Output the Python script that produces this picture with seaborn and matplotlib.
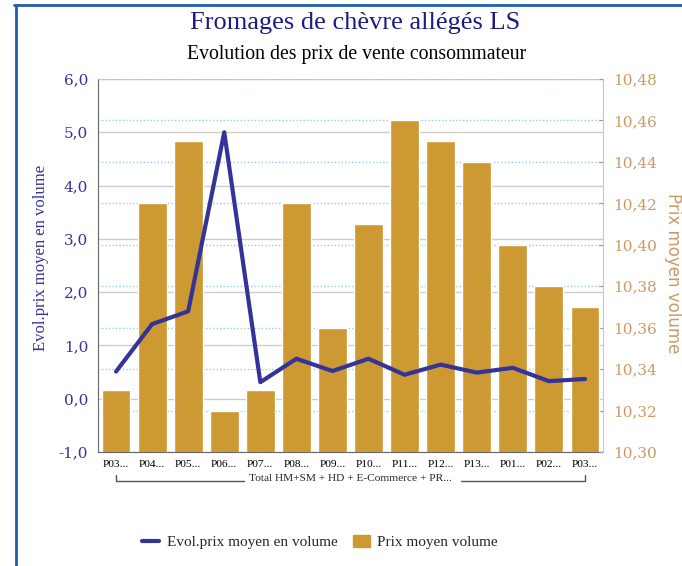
import matplotlib
matplotlib.use("Agg")
import matplotlib.pyplot as plt
import matplotlib.transforms as mtransforms
from matplotlib.lines import Line2D
from matplotlib.patches import Patch
from matplotlib.ticker import FuncFormatter
import numpy as np
import pandas as pd
import seaborn as sns

# data
periods = ["P03...", "P04...", "P05...", "P06...", "P07...", "P08...", "P09...",
           "P10...", "P11...", "P12...", "P13...", "P01...", "P02...", "P03..."]
evol = [0.51, 1.40, 1.64, 5.00, 0.31, 0.75, 0.52, 0.75, 0.45, 0.64, 0.49, 0.58, 0.33, 0.37]
prix = [10.33, 10.42, 10.45, 10.32, 10.33, 10.42, 10.36, 10.41, 10.46, 10.45, 10.44, 10.40, 10.38, 10.37]
group_label = "Total HM+SM + HD + E-Commerce + PR..."
left_ticks = np.arange(-1, 6.01, 1)
right_ticks = np.arange(10.30, 10.481, 0.02)

df = pd.DataFrame({"pos": range(len(periods)), "evol": evol, "prix": prix})

BLUE = "#333399"
GOLD = "#CC9933"
TAN = "#CC9966"

sns.set_style("white")
plt.rcParams["font.family"] = ["Liberation Serif", "DejaVu Serif"]

fig = plt.figure(figsize=(6.82, 5.66), dpi=100)
ax = fig.add_axes([98 / 682, 1 - 452 / 566, 505 / 682, 373 / 566])
ax_bar = ax.twinx()
ax_line = ax.twinx()

# bars on the right scale
sns.barplot(data=df, x="pos", y="prix", ax=ax_bar, color=GOLD, saturation=1, width=0.8)
ax_bar.set_ylim(10.30, 10.48)
ax_bar.set_yticks(right_ticks)
ax_bar.yaxis.set_major_formatter(FuncFormatter(lambda v, p: f"{v:.2f}".replace(".", ",")))
ax_bar.set_axisbelow(True)
ax_bar.yaxis.grid(True, color="#99c8ee", linestyle=(0, (1, 1.5)), linewidth=1)
ax_bar.tick_params(axis="y", direction="in", length=3, color="#999999", pad=7,
                   labelcolor=TAN, labelsize=11)
for lab in ax_bar.get_yticklabels():
    lab.set_family("DejaVu Serif")
ax_bar.set_ylabel("Prix moyen volume", color=TAN, fontsize=12, rotation=270, va="center",
                  family="DejaVu Sans")
ax_bar.yaxis.set_label_coords((673 - 98) / 505, 0.48)
for s in ["top", "left", "bottom"]:
    ax_bar.spines[s].set_visible(False)
ax_bar.spines["right"].set_color("#aaccee")

# line on the left scale, drawn on top
sns.lineplot(data=df, x="pos", y="evol", ax=ax_line, color=BLUE, linewidth=3)
ax_line.set_ylim(-1, 6)
ax_line.yaxis.set_visible(False)
for s in ax_line.spines.values():
    s.set_visible(False)

# left axis with the solid grid
ax.set_ylim(-1, 6)
ax.set_yticks(left_ticks)
ax.yaxis.set_major_formatter(FuncFormatter(lambda v, p: f"{v:.1f}".replace(".", ",")))
ax.yaxis.grid(True, color="#cccccc", linewidth=1)
ax.xaxis.grid(False)
ax.tick_params(axis="y", length=0, pad=7, labelcolor=BLUE, labelsize=11)
for lab in ax.get_yticklabels():
    lab.set_family("DejaVu Serif")
ax.set_ylabel("Evol.prix moyen en volume", color=BLUE, fontsize=12)
ax.yaxis.set_label_coords((49 - 98) / 505, 0.52)
ax.spines["top"].set_visible(False)
ax.spines["right"].set_visible(False)
ax.spines["left"].set_color("#666666")
ax.spines["bottom"].set_color("#666666")

ax.set_xlim(-0.5, len(periods) - 0.5)
ax.set_xticks(range(len(periods)))
ax.set_xticklabels(periods, fontsize=8.2)
ax.tick_params(axis="x", length=0, pad=5.5, labelcolor="black")
ax.set_xlabel("")

# group bracket under the ticks
tr = mtransforms.blended_transform_factory(ax.transData, fig.transFigure)
yb = 1 - 481 / 566
yt = 1 - 475 / 566
ax.plot([0, 0, 3.55], [yt, yb, yb], color="#555555", lw=1, transform=tr, clip_on=False)
ax.plot([9.55, 13, 13], [yb, yb, yt], color="#555555", lw=1, transform=tr, clip_on=False)
ax.text(6.5, 1 - 478.5 / 566, group_label, transform=tr, ha="center", va="center", fontsize=8.2)

# titles
fig.text(355 / 682, 1 - 23 / 566, "Fromages de chèvre allégés LS", ha="center", va="center",
         fontsize=19, color="#1c1c84")
fig.text(357 / 682, 1 - 54 / 566, "Evolution des prix de vente consommateur", ha="center",
         va="center", fontsize=14.2, color="black")

# legend
handles = [Line2D([0], [0], color=BLUE, lw=3), Patch(color=GOLD)]
fig.legend(handles, ["Evol.prix moyen en volume", "Prix moyen volume"], loc="center",
           bbox_to_anchor=(320 / 682, 1 - 542 / 566), ncol=2, frameon=False, fontsize=11,
           handlelength=1.1, handleheight=0.9, handletextpad=0.5, columnspacing=1.0)

# blue frame
fig.add_artist(Line2D([14 / 682, 1], [1 - 5 / 566] * 2, transform=fig.transFigure,
                      color="#1f5fb0", lw=2))
fig.add_artist(Line2D([16 / 682] * 2, [0, 1 - 5 / 566], transform=fig.transFigure,
                      color="#1f5fb0", lw=2))

fig.savefig("out.png", dpi=100)
